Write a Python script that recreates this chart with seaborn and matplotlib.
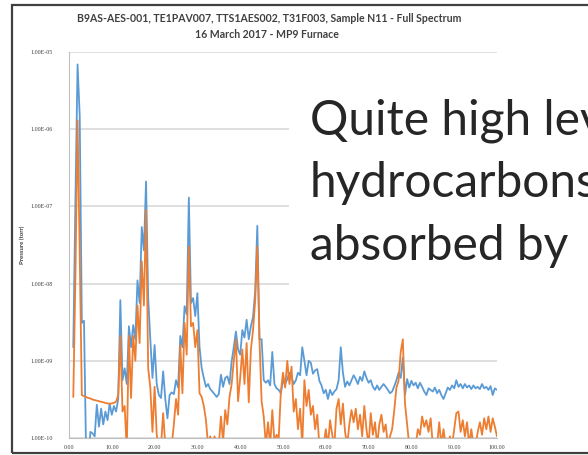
import numpy as np
import pandas as pd
import matplotlib
matplotlib.use("Agg")
import matplotlib.pyplot as plt
from matplotlib.patches import Rectangle
from matplotlib.ticker import FuncFormatter, LogLocator, MultipleLocator, NullFormatter
import seaborn as sns

# Mass scan, amu (half-amu steps)
mass = np.arange(2, 201) / 2.0

# Total pressure per mass step, torr
trace_blue = [
    1.5e-9, 1.2e-7, 6.9e-6, 1.5e-6, 3.1e-9, 3.3e-9, 6e-11, 5e-11, 1.2e-10, 1.15e-10,
    1.05e-10, 2.7e-10, 1.4e-10, 2.4e-10, 1.5e-10, 2.2e-10, 1.7e-10, 2.8e-10, 2.0e-10, 2.6e-10,
    2.2e-10, 3.2e-10, 6.1e-9, 5.6e-10, 8.0e-10, 5.0e-10, 2.8e-9, 1.5e-9, 2.9e-9, 1.9e-9,
    1.1e-8, 5.6e-9, 5.4e-8, 2.7e-8, 2.1e-7, 6.5e-9, 1.9e-9, 6.0e-10, 1.6e-9, 5.0e-10,
    3.6e-10, 3.3e-10, 7.3e-10, 3.2e-10, 1.8e-10, 3.6e-10, 3.9e-10, 3.7e-10, 5.6e-10, 4.5e-10,
    2.1e-9, 1.5e-9, 5.1e-9, 4.0e-9, 1.3e-7, 5.6e-9, 6.5e-9, 3.8e-9, 7.5e-9, 1.5e-9,
    8.0e-10, 6.0e-10, 4.6e-10, 5.0e-10, 4.3e-10, 4.0e-10, 3.7e-10, 3.4e-10, 3.7e-10, 6.6e-10,
    4.6e-10, 6.0e-10, 6.3e-10, 5.0e-10, 9.8e-10, 1.5e-9, 2.4e-9, 1.4e-9, 1.2e-9, 2.5e-9,
    2.0e-9, 3.4e-9, 1.9e-9, 2.8e-9, 3.7e-9, 8.0e-9, 5.6e-8, 1.9e-9, 1.9e-9, 5.6e-10,
    5.2e-10, 5.6e-10, 4.8e-10, 1.3e-9, 5.0e-10, 4.4e-10, 4.2e-10, 3.8e-10, 5.6e-10, 5.0e-10,
    5.8e-10, 7.0e-10, 6.2e-10, 5.0e-10, 5.6e-10, 7.0e-10, 6.5e-10, 1.5e-9, 1.0e-9, 6.5e-10,
    1.0e-9, 9.4e-10, 6.8e-10, 7.5e-10, 7.8e-10, 5.5e-10, 4.8e-10, 3.8e-10, 4.2e-10, 3.2e-10,
    4.2e-10, 3.6e-10, 4.0e-10, 4.3e-10, 5.6e-10, 1.5e-9, 7.0e-10, 4.6e-10, 5.4e-10, 4.8e-10,
    5.6e-10, 6.5e-10, 5.8e-10, 5.0e-10, 6.2e-10, 5.5e-10, 7.3e-10, 6.0e-10, 5.2e-10, 5.6e-10,
    4.6e-10, 4.2e-10, 4.8e-10, 4.2e-10, 4.6e-10, 5.0e-10, 4.6e-10, 4.2e-10, 3.8e-10, 4.0e-10,
    4.7e-10, 5.6e-10, 7.0e-10, 6.0e-10, 1.1e-9, 3.6e-10, 5.8e-10, 4.5e-10, 5.5e-10, 4.8e-10,
    5.2e-10, 4.4e-10, 5.2e-10, 4.6e-10, 4.0e-10, 3.6e-10, 4.4e-10, 4.2e-10, 4.0e-10, 4.5e-10,
    3.8e-10, 4.2e-10, 3.6e-10, 3.2e-10, 3.8e-10, 4.5e-10, 4.2e-10, 4.8e-10, 4.4e-10, 5.6e-10,
    4.6e-10, 5.0e-10, 4.4e-10, 5.0e-10, 4.5e-10, 4.8e-10, 4.3e-10, 4.8e-10, 4.4e-10, 4.6e-10,
    4.3e-10, 5.0e-10, 4.4e-10, 4.6e-10, 4.2e-10, 4.7e-10, 3.6e-10, 4.4e-10, 4.2e-10,
]

trace_orange = [
    3.4e-10, 1.2e-8, 1.3e-6, 2.5e-8, 3.6e-10, 3.5e-10, 3.4e-10, 3.3e-10, 3.25e-10, 3.15e-10,
    3.1e-10, 3.05e-10, 3.0e-10, 2.95e-10, 2.9e-10, 2.85e-10, 2.8e-10, 2.78e-10, 2.8e-10, 2.85e-10,
    2.96e-10, 3.6e-10, 2.1e-9, 2.2e-10, 2.6e-10, 7e-11, 2.1e-9, 3.3e-10, 2.1e-9, 1.0e-9,
    5.2e-9, 1.7e-9, 1.95e-8, 5.2e-9, 9.0e-8, 8.0e-10, 4.5e-10, 1.2e-10, 4.6e-10, 1.1e-10,
    8e-11, 8e-11, 2.1e-10, 8e-11, 8e-11, 8e-11, 8e-11, 1.5e-10, 3.2e-10, 2.0e-10,
    1.6e-9, 3.8e-10, 3.1e-9, 1.2e-9, 3.0e-8, 2.8e-9, 3.1e-9, 1.5e-9, 2.5e-9, 3.8e-10,
    3.4e-10, 2.6e-10, 1.7e-10, 8e-11, 1.05e-10, 8e-11, 1.05e-10, 8e-11, 8e-11, 1.9e-10,
    9e-11, 2.3e-10, 1.5e-10, 3.4e-10, 5.0e-10, 1.0e-9, 1.9e-9, 3.0e-10, 6.0e-10, 1.4e-9,
    5.0e-10, 1.7e-9, 2.9e-10, 1.4e-9, 2.5e-9, 6.0e-9, 3.0e-8, 1.9e-9, 3.0e-10, 1.9e-10,
    8e-11, 1.6e-10, 8e-11, 2.3e-10, 9e-11, 1.1e-10, 1.0e-10, 4.0e-10, 7.0e-10, 4.5e-10,
    1.0e-9, 5.0e-10, 8.4e-10, 2.2e-10, 3.2e-10, 1.3e-10, 2.4e-10, 8e-11, 5.6e-10, 2.6e-10,
    4.2e-10, 2.0e-10, 2.6e-10, 1.3e-10, 2.0e-10, 8e-11, 8e-11, 8e-11, 1.3e-10, 8e-11,
    1.7e-10, 1.1e-10, 8e-11, 2.4e-10, 3.2e-10, 1.5e-10, 2.8e-10, 1.2e-10, 8e-11, 1.5e-10,
    2.3e-10, 1.6e-10, 2.4e-10, 1.3e-10, 2.0e-10, 1.05e-10, 2.6e-10, 1.3e-10, 8e-11, 2.1e-10,
    1.1e-10, 1.6e-10, 8e-11, 1.5e-10, 2.0e-10, 1.2e-10, 1.5e-10, 8e-11, 1.05e-10, 1.3e-10,
    2.3e-10, 4.5e-10, 5.5e-10, 1.3e-9, 1.9e-9, 2.8e-10, 1.5e-10, 8e-11, 8e-11, 8e-11,
    8e-11, 1.3e-10, 1.1e-10, 1.9e-10, 1.4e-10, 1.7e-10, 1.2e-10, 1.8e-10, 8e-11, 8e-11,
    8e-11, 1.6e-10, 8e-11, 1.3e-10, 8e-11, 8e-11, 1.05e-10, 8e-11, 1.3e-10, 2.1e-10,
    2.2e-10, 1.2e-10, 1.7e-10, 1.05e-10, 1.6e-10, 8e-11, 1.3e-10, 8e-11, 8e-11, 1.2e-10,
    1.6e-10, 1.1e-10, 1.8e-10, 1.3e-10, 1.9e-10, 1.2e-10, 1.8e-10, 1.4e-10, 1.05e-10,
]

series_names = ["trace_blue", "trace_orange"]
series_colors = ["#5B9BD5", "#ED7D31"]

title_lines = [
    "B9AS-AES-001, TE1PAV007, TTS1AES002, T31F003, Sample N11 - Full Spectrum",
    "16 March 2017 - MP9 Furnace",
]
y_label = "Pressure (torr)"
note_lines = ["Quite high levels", "hydrocarbons", "absorbed by"]

df = pd.concat([
    pd.DataFrame({"mass": mass, "pressure": trace_blue, "series": series_names[0]}),
    pd.DataFrame({"mass": mass, "pressure": trace_orange, "series": series_names[1]}),
])

sns.set_style("white")
plt.rcParams["font.family"] = ["Lato", "DejaVu Sans"]

W, H = 588, 455
fig = plt.figure(figsize=(W / 100, H / 100), dpi=100)


def fx(px):
    return px / W


def fy(py):
    return 1 - py / H


# chart frame (runs off the right edge of the slide)
fig.add_artist(Rectangle((fx(12), fy(453)), fx(640 - 12), fy(5) - fy(453),
                         transform=fig.transFigure, fill=False,
                         edgecolor="#404040", linewidth=1.6, zorder=1))

ax = fig.add_axes([fx(69), fy(438), fx(497 - 69), fy(52) - fy(438)])
ax.set_facecolor("none")

sns.lineplot(data=df, x="mass", y="pressure", hue="series",
             palette=series_colors, estimator=None, sort=False,
             linewidth=1.3, legend=False, ax=ax)

ax.set_yscale("log")
ax.set_ylim(1e-10, 1e-5)
ax.set_xlim(0, 100)

ax.yaxis.set_major_locator(LogLocator(base=10))
ax.yaxis.set_minor_locator(LogLocator(base=10, subs=np.arange(2, 10)))
ax.yaxis.set_minor_formatter(NullFormatter())
ax.yaxis.set_major_formatter(FuncFormatter(lambda v, p: f"{v:.2E}"))
ax.xaxis.set_major_locator(MultipleLocator(10))
ax.xaxis.set_minor_locator(MultipleLocator(2))
ax.xaxis.set_major_formatter(FuncFormatter(lambda v, p: f"{v:.2f}"))

ax.tick_params(axis="y", which="major", direction="out", length=2.5, width=0.6,
               color="#a6a6a6", pad=9, labelsize=4.3, labelcolor="#404040")
ax.tick_params(axis="y", which="minor", direction="out", length=1.8, width=0.5,
               color="#a6a6a6")
ax.tick_params(axis="x", which="both", direction="out", length=1.8, width=0.5,
               color="#a6a6a6", pad=3, labelsize=4.3, labelcolor="#404040")
for lab in ax.get_xticklabels() + ax.get_yticklabels():
    lab.set_family("Liberation Serif")

ax.grid(axis="y", which="major", color="#d9d9d9", linewidth=1.2)
ax.grid(axis="x", visible=False)
ax.set_axisbelow(True)
for side in ["top", "right"]:
    ax.spines[side].set_visible(False)
for side in ["left", "bottom"]:
    ax.spines[side].set_color("#bfbfbf")
    ax.spines[side].set_linewidth(0.8)

ax.set_xlabel("")
ax.set_ylabel(y_label, fontsize=4.3, fontweight="bold", color="#404040",
              labelpad=0)
ax.yaxis.set_label_coords(fx(25 - 69) / fx(497 - 69), 0.5)

fig.text(fx(269), fy(18), title_lines[0], ha="center", va="center",
         fontsize=7.6, fontweight="bold", color="#404040")
fig.text(fx(267), fy(34), title_lines[1], ha="center", va="center",
         fontsize=7.6, fontweight="bold", color="#404040")

# text box laid over the chart
fig.add_artist(Rectangle((fx(289), fy(300)), fx(400), fy(68) - fy(300),
                         transform=fig.transFigure, facecolor="white",
                         edgecolor="none", zorder=5))
for txt, base in zip(note_lines, [134, 197, 260]):
    fig.text(fx(310), fy(base), txt, ha="left", va="baseline",
             fontsize=34.5, color="#262626", zorder=6)

fig.savefig("out.png", dpi=100)
